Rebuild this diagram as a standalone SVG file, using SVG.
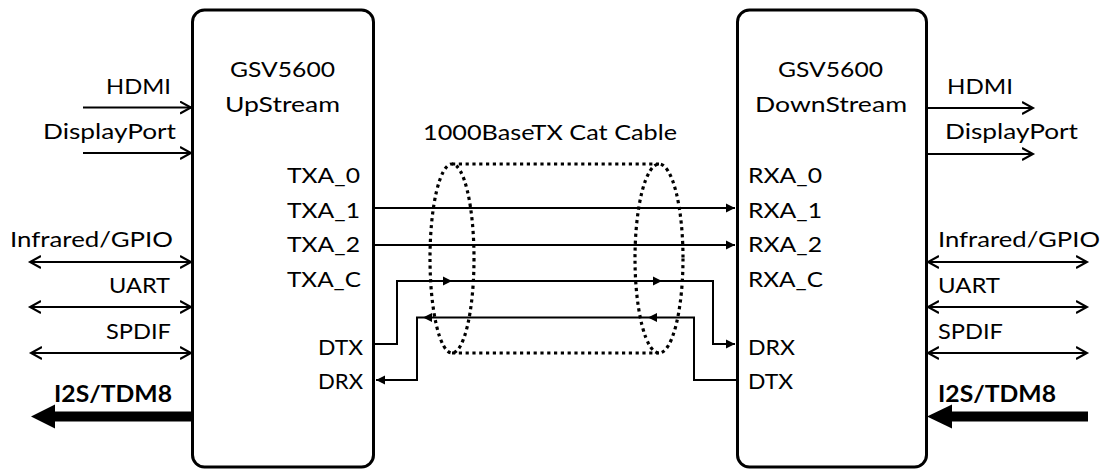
<svg xmlns="http://www.w3.org/2000/svg" width="1107" height="470" viewBox="0 0 1107 470">
<style>
  text { font-family: Lato, "Open Sans", "Liberation Sans", sans-serif; font-size: 22px; fill: #000; }
  .b { font-weight: 700; }
  .box { fill: #fff; stroke: #000; stroke-width: 3; }
  .ln { fill: none; stroke: #000; stroke-width: 2; }
  .thick { fill: none; stroke: #000; stroke-width: 10; }
  .dot { fill: none; stroke: #000; stroke-width: 3.2; stroke-dasharray: 3.2 3.6; }
</style>
<defs>
  <marker id="open" markerUnits="userSpaceOnUse" markerWidth="14" markerHeight="14" refX="11" refY="7" orient="auto-start-reverse">
    <path d="M0,1 L11,7 L0,13" fill="none" stroke="#000" stroke-width="2"/>
  </marker>
  <marker id="fill" markerUnits="userSpaceOnUse" markerWidth="10" markerHeight="10" refX="9" refY="5" orient="auto-start-reverse">
    <path d="M0,0.5 L9,5 L0,9.5 Z" fill="#000"/>
  </marker>
</defs>

<rect x="0" y="0" width="1107" height="470" fill="#fff"/>

<g id="upstream">
  <rect class="box" x="192.5" y="10" width="181" height="457" rx="12"/>
  <text x="230" y="77" textLength="105" lengthAdjust="spacingAndGlyphs">GSV5600</text>
  <text x="225" y="111.5" textLength="115" lengthAdjust="spacingAndGlyphs">UpStream</text>
  <text x="287" y="182.5" textLength="73" lengthAdjust="spacingAndGlyphs">TXA_0</text>
  <text x="287" y="218" textLength="73" lengthAdjust="spacingAndGlyphs">TXA_1</text>
  <text x="287" y="251.5" textLength="73" lengthAdjust="spacingAndGlyphs">TXA_2</text>
  <text x="287" y="286.5" textLength="74" lengthAdjust="spacingAndGlyphs">TXA_C</text>
  <text x="318" y="355" textLength="45" lengthAdjust="spacingAndGlyphs">DTX</text>
  <text x="318" y="389" textLength="45" lengthAdjust="spacingAndGlyphs">DRX</text>
</g>

<g id="downstream">
  <rect class="box" x="737.5" y="10" width="189" height="457" rx="12"/>
  <text x="778" y="77" textLength="105" lengthAdjust="spacingAndGlyphs">GSV5600</text>
  <text x="755" y="111.5" textLength="152" lengthAdjust="spacingAndGlyphs">DownStream</text>
  <text x="748" y="182.5" textLength="74" lengthAdjust="spacingAndGlyphs">RXA_0</text>
  <text x="748" y="218" textLength="74" lengthAdjust="spacingAndGlyphs">RXA_1</text>
  <text x="748" y="251.5" textLength="74" lengthAdjust="spacingAndGlyphs">RXA_2</text>
  <text x="748" y="286.5" textLength="75" lengthAdjust="spacingAndGlyphs">RXA_C</text>
  <text x="748" y="355" textLength="47" lengthAdjust="spacingAndGlyphs">DRX</text>
  <text x="748" y="389" textLength="45" lengthAdjust="spacingAndGlyphs">DTX</text>
</g>

<g id="cable">
  <ellipse class="dot" cx="452" cy="258.5" rx="22" ry="94.5"/>
  <ellipse class="dot" cx="659" cy="258.5" rx="24" ry="94.5"/>
  <line class="dot" x1="452" y1="164" x2="659" y2="164"/>
  <line class="dot" x1="452" y1="353" x2="659" y2="353"/>
  <text x="423" y="140" textLength="254" lengthAdjust="spacingAndGlyphs">1000BaseTX Cat Cable</text>
</g>

<g id="left-io">
  <text x="106" y="94" textLength="65" lengthAdjust="spacingAndGlyphs">HDMI</text>
  <text x="43" y="138.5" textLength="133" lengthAdjust="spacingAndGlyphs">DisplayPort</text>
  <text x="10" y="246.5" textLength="163" lengthAdjust="spacingAndGlyphs">Infrared/GPIO</text>
  <text x="109" y="293" textLength="61" lengthAdjust="spacingAndGlyphs">UART</text>
  <text x="106" y="339" textLength="65" lengthAdjust="spacingAndGlyphs">SPDIF</text>
  <text class="b" x="54" y="401.5" textLength="118" lengthAdjust="spacingAndGlyphs">I2S/TDM8</text>
</g>

<g id="right-io">
  <text x="947" y="94" textLength="66" lengthAdjust="spacingAndGlyphs">HDMI</text>
  <text x="945" y="138.5" textLength="133" lengthAdjust="spacingAndGlyphs">DisplayPort</text>
  <text x="938" y="246.5" textLength="162" lengthAdjust="spacingAndGlyphs">Infrared/GPIO</text>
  <text x="938" y="293" textLength="62" lengthAdjust="spacingAndGlyphs">UART</text>
  <text x="938" y="339" textLength="65" lengthAdjust="spacingAndGlyphs">SPDIF</text>
  <text class="b" x="938" y="401.5" textLength="118" lengthAdjust="spacingAndGlyphs">I2S/TDM8</text>
</g>

<g id="connectors">
  <!-- left side io -->
  <line class="ln" x1="83" y1="107.5" x2="191" y2="107.5" marker-end="url(#open)"/>
  <line class="ln" x1="83" y1="153" x2="191" y2="153" marker-end="url(#open)"/>
  <line class="ln" x1="30" y1="262" x2="191" y2="262" marker-start="url(#open)" marker-end="url(#open)"/>
  <line class="ln" x1="30" y1="307" x2="191" y2="307" marker-start="url(#open)" marker-end="url(#open)"/>
  <line class="ln" x1="31" y1="353" x2="191" y2="353" marker-start="url(#open)" marker-end="url(#open)"/>
  <line class="thick" x1="191" y1="416.5" x2="54" y2="416.5"/>
  <polygon points="31,416.5 55,404.5 55,428.5" fill="#000"/>
  <!-- right side io -->
  <line class="ln" x1="928" y1="108" x2="1033" y2="108" marker-end="url(#open)"/>
  <line class="ln" x1="928" y1="154" x2="1033" y2="154" marker-end="url(#open)"/>
  <line class="ln" x1="928" y1="262" x2="1087" y2="262" marker-start="url(#open)" marker-end="url(#open)"/>
  <line class="ln" x1="928" y1="307" x2="1087" y2="307" marker-start="url(#open)" marker-end="url(#open)"/>
  <line class="ln" x1="928" y1="353" x2="1087" y2="353" marker-start="url(#open)" marker-end="url(#open)"/>
  <line class="thick" x1="1088" y1="416.5" x2="951" y2="416.5"/>
  <polygon points="927,416.5 952,404.5 952,428.5" fill="#000"/>
  <!-- cable lanes -->
  <line class="ln" x1="375" y1="208" x2="735" y2="208" marker-end="url(#fill)"/>
  <line class="ln" x1="375" y1="245" x2="735" y2="245" marker-end="url(#fill)"/>
  <path class="ln" d="M375,344 H397 V281 H713 V344 H735" marker-end="url(#fill)"/>
  <path class="ln" d="M737,380 H694 V317.5 H417 V380 H376" marker-end="url(#fill)"/>
  <polygon points="452,281 443,276.5 443,285.5" fill="#000"/>
  <polygon points="662,281 653,276.5 653,285.5" fill="#000"/>
  <polygon points="423,317.5 432,313 432,322" fill="#000"/>
  <polygon points="648,317.5 657,313 657,322" fill="#000"/>
</g>
</svg>
